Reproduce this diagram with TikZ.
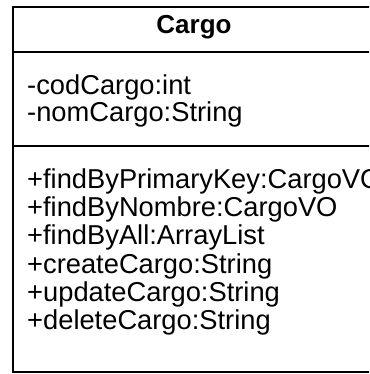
\documentclass[tikz,border=0pt]{standalone}
\usepackage{fontspec}
\setmainfont{Liberation Sans}
\begin{document}
\begin{tikzpicture}[x=1pt,y=1pt,
  boxline/.style={line width=1.7pt, draw=black},
  txt/.style={anchor=base west, inner sep=0pt, font=\fontsize{27.3}{28}\selectfont},
  ttl/.style={anchor=base, inner sep=0pt, font=\fontsize{26}{28}\selectfont\bfseries}]
\useasboundingbox (0,0) rectangle (369,-374);
\clip (0,0) rectangle (369,-374);
\coordinate (tl) at (13.3,-7.3);
\coordinate (br) at (390,-372.3);
\coordinate (s1l) at (13.3,-52);
\coordinate (s1r) at (390,-52);
\coordinate (s2l) at (13.3,-146);
\coordinate (s2r) at (390,-146);
\draw[boxline] (tl) rectangle (br);
\draw[boxline] (s1l) -- (s1r);
\draw[boxline] (s2l) -- (s2r);
\node[ttl] (title) at (194,-33.3) {Cargo};
\node[txt] (a1) at (27,-95) {-codCargo:int};
\node[txt] (a2) at (27,-122) {-nomCargo:String};
\node[txt] (m1) at (27,-188.3) {+findByPrimaryKey:CargoVO};
\node[txt] (m2) at (27,-216.6) {+findByNombre:CargoVO};
\node[txt] (m3) at (27,-244.9) {+findByAll:ArrayList};
\node[txt] (m4) at (27,-273.2) {+createCargo:String};
\node[txt] (m5) at (27,-301.5) {+updateCargo:String};
\node[txt] (m6) at (27,-329.8) {+deleteCargo:String};
\end{tikzpicture}
\end{document}
